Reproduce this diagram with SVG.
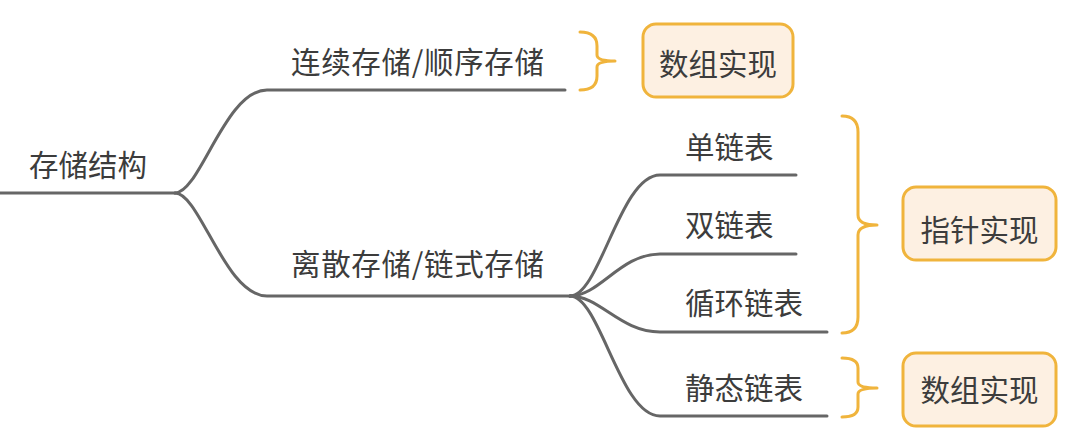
<svg xmlns="http://www.w3.org/2000/svg" width="1071" height="440" viewBox="0 0 1071 440">
<style>
.t{font-family:"Noto Sans CJK SC","Noto Sans",sans-serif;font-size:29.5px;fill:#3c3c3c}
.ln{fill:none;stroke:#666666;stroke-width:3;stroke-linecap:round}
.br{fill:none;stroke:#f0b43c;stroke-width:3;stroke-linecap:round;stroke-linejoin:round}
.bx{fill:#fdf0e2;stroke:#f0b43c;stroke-width:3}
</style>
<rect width="1071" height="440" fill="#ffffff"/>
<g id="connectors">
<path class="ln" d="M0,193 H175"/>
<path class="ln" d="M175,193 C200,193 225,90 267,90 H565"/>
<path class="ln" d="M175,193 C200,193 225,296 267,296 H570"/>
<path class="ln" d="M570,296 C600,296 620,175 660,175 H796"/>
<path class="ln" d="M570,296 C600,296 620,254 660,254 H796"/>
<path class="ln" d="M570,296 C600,296 620,332 660,332 H827"/>
<path class="ln" d="M570,296 C600,296 620,416 660,416 H827"/>
</g>
<g id="braces">
<path class="br" d="M580,32 Q597,32 597,46 V55 Q597,61 615,61 Q597,61 597,67 V76 Q597,90 580,90"/>
<path class="br" d="M842,116 Q858,116 858,132 V215 Q858,225 877,225 Q858,225 858,235 V317 Q858,333 842,333"/>
<path class="br" d="M842,358 Q858,358 858,368 V382 Q858,388 877,388 Q858,388 858,394 V407 Q858,417 842,417"/>
</g>
<g id="root"><text class="t" x="29" y="176">存储结构</text></g>
<g id="n-seq"><text class="t" x="291" y="73" textLength="253" lengthAdjust="spacing">连续存储/顺序存储</text></g>
<g id="n-link"><text class="t" x="291" y="275" textLength="253" lengthAdjust="spacing">离散存储/链式存储</text></g>
<g id="n-single"><text class="t" x="685" y="158">单链表</text></g>
<g id="n-double"><text class="t" x="685" y="236">双链表</text></g>
<g id="n-circ"><text class="t" x="685" y="314">循环链表</text></g>
<g id="n-static"><text class="t" x="685" y="399">静态链表</text></g>
<g id="box-array1"><rect class="bx" x="643" y="24" width="150" height="73" rx="13"/><text class="t" x="718" y="75" text-anchor="middle">数组实现</text></g>
<g id="box-pointer"><rect class="bx" x="903" y="187" width="153" height="73" rx="13"/><text class="t" x="979.5" y="241" text-anchor="middle">指针实现</text></g>
<g id="box-array2"><rect class="bx" x="903" y="353" width="153" height="73" rx="13"/><text class="t" x="979.5" y="401" text-anchor="middle">数组实现</text></g>
</svg>
